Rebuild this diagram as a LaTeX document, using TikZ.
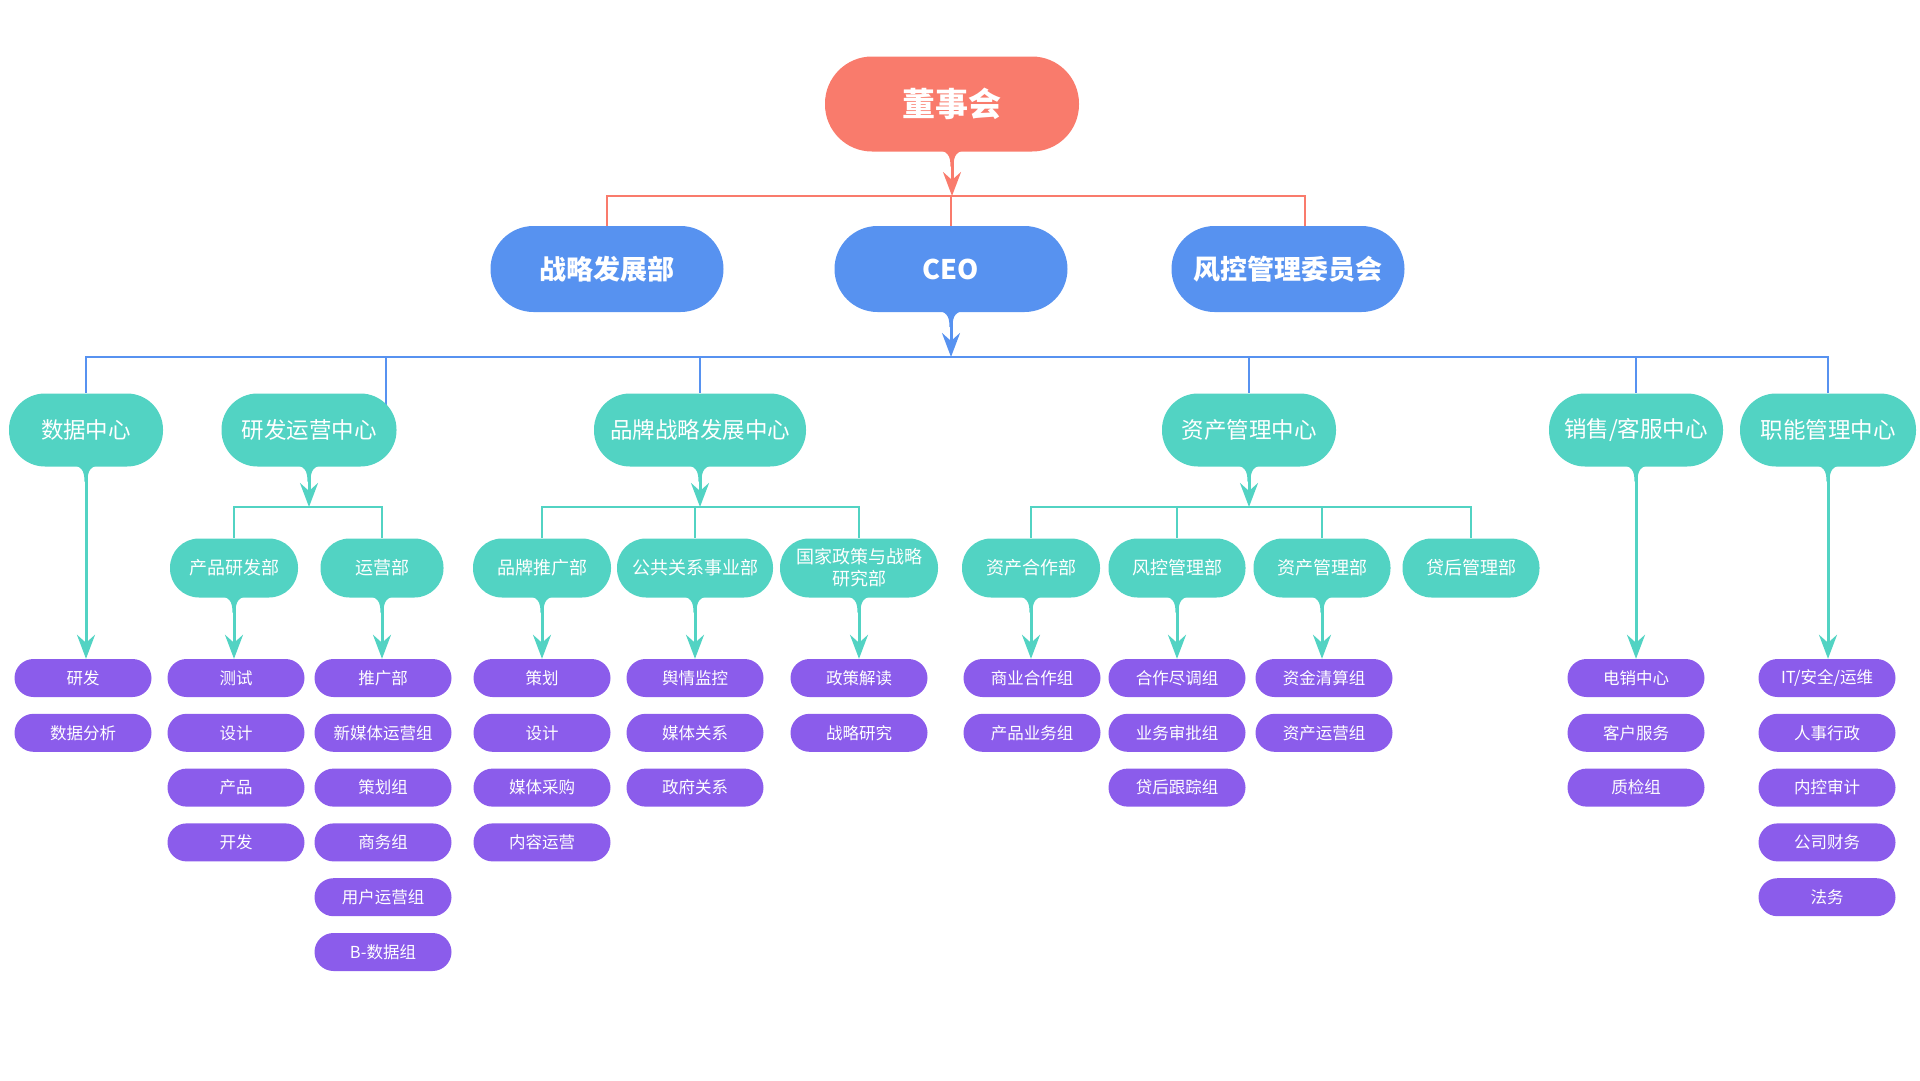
\documentclass[tikz,border=0pt]{standalone}
\usepackage{fontspec}
\setmainfont{Noto Sans CJK SC}
\usetikzlibrary{arrows.meta, calc, positioning, backgrounds}
\definecolor{boardred}{HTML}{F97B6C}
\definecolor{execblue}{HTML}{5792F0}
\definecolor{hubgreen}{HTML}{52D3C3}
\definecolor{teampurple}{HTML}{8B5CEB}

% tapered tail under a node, then an arrow down to the target's level
\newcommand{\drip}[3]{%
  \fill[#1] ($(#2.south)+(-19,-2)$) .. controls ($(#2.south)+(-4,-2)$) and ($(#2.south)+(-1.5,4)$) .. ($(#2.south)+(-1.5,15)$)
      -- ($(#2.south)+(1.5,15)$) .. controls ($(#2.south)+(1.5,4)$) and ($(#2.south)+(4,-2)$) .. ($(#2.south)+(19,-2)$) -- cycle;
  \draw[#1, line width=3pt, -{Stealth[length=24pt, width=18pt, inset=8pt]}]
      ($(#2.south)+(0,-1)$) -- (#2.south |- #3);
}

\begin{document}
\begin{tikzpicture}[x=1pt, y=-1pt,
   board/.style = {fill=boardred, text=white, font=\fontsize{33}{36}\selectfont\bfseries,
                   minimum width=254pt, minimum height=95pt, rounded corners=47pt},
    exec/.style = {fill=execblue, text=white, font=\fontsize{27}{30}\selectfont\bfseries,
                   minimum width=233pt, minimum height=86pt, rounded corners=43pt},
     hub/.style = {fill=hubgreen, text=white, font=\fontsize{22.5}{25}\selectfont,
                   minimum height=73pt, rounded corners=36pt},
    dept/.style = {fill=hubgreen, text=white, font=\fontsize{18}{22}\selectfont,
                   minimum height=59pt, rounded corners=29pt, align=center, inner sep=2pt},
    team/.style = {fill=teampurple, text=white, font=\fontsize{16.5}{18}\selectfont,
                   minimum width=137pt, minimum height=38pt, rounded corners=19pt},
  redbus/.style = {boardred, line width=1.2pt},
 bluebus/.style = {execblue, line width=1.2pt},
greenbus/.style = {hubgreen, line width=1.2pt}
                   ]
	\useasboundingbox (0,0) rectangle (1920,1080);

	% top levels
	\node[board] (dsh) at (952,104) {董事会};
	\node[exec] (zl)  at (607,269)  {战略发展部};
	\node[exec] (ceo) at (951,269)  {CEO};
	\node[exec] (fk)  at (1288,269) {风控管理委员会};

	% centres
	\node[hub, minimum width=154pt] (sj) at (86,430)   {数据中心};
	\node[hub, minimum width=175pt] (yf) at (309,430)  {研发运营中心};
	\node[hub, minimum width=212pt] (pp) at (700,430)  {品牌战略发展中心};
	\node[hub, minimum width=174pt] (zc) at (1249,430) {资产管理中心};
	\node[hub, minimum width=174pt] (xs) at (1636,430) {销售/客服中心};
	\node[hub, minimum width=176pt] (zn) at (1828,430) {职能管理中心};

	% departments
	\node[dept, minimum width=128pt] (cpyf) at (234,568)  {产品研发部};
	\node[dept, minimum width=123pt] (yy)   at (382,568)  {运营部};
	\node[dept, minimum width=138pt] (pptg) at (542,568)  {品牌推广部};
	\node[dept, minimum width=156pt] (gg)   at (695,568)  {公共关系事业部};
	\node[dept, minimum width=158pt] (gj)   at (859,568)  {国家政策与战略\\研究部};
	\node[dept, minimum width=138pt] (zchz) at (1031,568) {资产合作部};
	\node[dept, minimum width=137pt] (fkgl) at (1177,568) {风控管理部};
	\node[dept, minimum width=137pt] (zcgl) at (1322,568) {资产管理部};
	\node[dept, minimum width=137pt] (dh)   at (1471,568) {贷后管理部};

	% teams
	\foreach \t [count=\i] in {研发,数据分析}
		\node[team] (tsj\i) at (83,{678+54.8*(\i-1)}) {\t};
	\foreach \t [count=\i] in {测试,设计,产品,开发}
		\node[team] (tcp\i) at (236,{678+54.8*(\i-1)}) {\t};
	\foreach \t [count=\i] in {推广部,新媒体运营组,策划组,商务组,用户运营组,B-数据组}
		\node[team] (tyy\i) at (383,{678+54.8*(\i-1)}) {\t};
	\foreach \t [count=\i] in {策划,设计,媒体采购,内容运营}
		\node[team] (tpp\i) at (542,{678+54.8*(\i-1)}) {\t};
	\foreach \t [count=\i] in {舆情监控,媒体关系,政府关系}
		\node[team] (tgg\i) at (695,{678+54.8*(\i-1)}) {\t};
	\foreach \t [count=\i] in {政策解读,战略研究}
		\node[team] (tgj\i) at (859,{678+54.8*(\i-1)}) {\t};
	\foreach \t [count=\i] in {商业合作组,产品业务组}
		\node[team] (thz\i) at (1032,{678+54.8*(\i-1)}) {\t};
	\foreach \t [count=\i] in {合作尽调组,业务审批组,贷后跟踪组}
		\node[team] (tfk\i) at (1177,{678+54.8*(\i-1)}) {\t};
	\foreach \t [count=\i] in {资金清算组,资产运营组}
		\node[team] (tzc\i) at (1324,{678+54.8*(\i-1)}) {\t};
	\foreach \t [count=\i] in {电销中心,客户服务,质检组}
		\node[team] (txs\i) at (1636,{678+54.8*(\i-1)}) {\t};
	\foreach \t [count=\i] in {IT/安全/运维,人事行政,内控审计,公司财务,法务}
		\node[team] (tzn\i) at (1827,{678+54.8*(\i-1)}) {\t};

	% buses
	\coordinate (b1) at (952,196);
	\coordinate (b2) at (951,357);
	\coordinate (b3) at (309,507);
	\coordinate (b4) at (700,507);
	\coordinate (b5) at (1249,507);

	\begin{scope}[on background layer]
		\draw[redbus] (b1) -| (zl);
		\draw[redbus] (b1) -| (ceo);
		\draw[redbus] (b1) -| ([xshift=17pt]fk.center);
		\foreach \n in {sj,pp,zc,xs,zn}
			\draw[bluebus] (b2) -| (\n);
		\draw[bluebus] (b2) -| ([xshift=77pt]yf.center);
		\foreach \n in {cpyf,yy}
			\draw[greenbus] (b3) -| (\n);
		\foreach \n in {pptg,gg,gj}
			\draw[greenbus] (b4) -| (\n);
		\foreach \n in {zchz,fkgl,zcgl,dh}
			\draw[greenbus] (b5) -| (\n);
	\end{scope}

	% arrows
	\drip{boardred}{dsh}{b1}
	\drip{execblue}{ceo}{b2}
	\drip{hubgreen}{yf}{b3}
	\drip{hubgreen}{pp}{b4}
	\drip{hubgreen}{zc}{b5}
	\drip{hubgreen}{sj}{tsj1.north}
	\drip{hubgreen}{xs}{txs1.north}
	\drip{hubgreen}{zn}{tzn1.north}
	\drip{hubgreen}{cpyf}{tcp1.north}
	\drip{hubgreen}{yy}{tyy1.north}
	\drip{hubgreen}{pptg}{tpp1.north}
	\drip{hubgreen}{gg}{tgg1.north}
	\drip{hubgreen}{gj}{tgj1.north}
	\drip{hubgreen}{zchz}{thz1.north}
	\drip{hubgreen}{fkgl}{tfk1.north}
	\drip{hubgreen}{zcgl}{tzc1.north}
\end{tikzpicture}
\end{document}
